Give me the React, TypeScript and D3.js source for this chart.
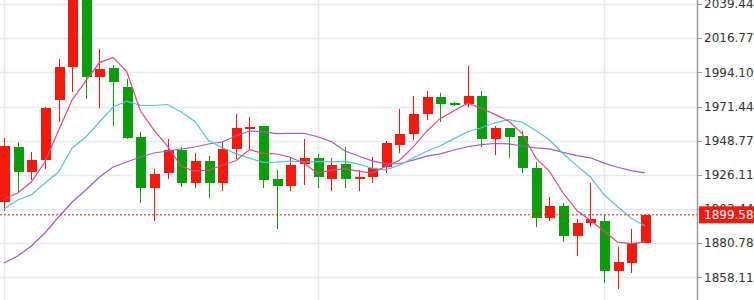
import React from "react";
import * as d3 from "d3";

const opens = [1908.08, 1944.57, 1927.99, 1935.95, 1975.75, 1997.64, 2047.40, 1991.01, 1996.98, 1984.37, 1951.20, 1917.37, 1927.32, 1942.58, 1920.69, 1935.28, 1920.69, 1943.24, 1956.51, 1958.50, 1923.34, 1918.70, 1933.29, 1937.27, 1923.34, 1933.29, 1923.34, 1924.67, 1931.30, 1945.90, 1953.19, 1966.46, 1977.74, 1973.76, 1973.10, 1978.40, 1949.88, 1957.17, 1951.87, 1930.64, 1897.47, 1905.43, 1885.53, 1894.15, 1895.48, 1862.31, 1867.62, 1880.88];
const closes = [1945.23, 1927.99, 1935.95, 1970.44, 1997.64, 2047.40, 1991.01, 1996.32, 1987.69, 1950.54, 1917.37, 1926.66, 1942.58, 1920.69, 1935.28, 1920.69, 1943.24, 1957.17, 1957.84, 1922.68, 1918.70, 1932.63, 1937.27, 1924.67, 1932.63, 1923.34, 1924.67, 1930.64, 1947.22, 1953.19, 1966.46, 1977.74, 1973.10, 1972.43, 1978.40, 1949.88, 1957.17, 1951.20, 1930.64, 1897.47, 1905.43, 1885.53, 1894.15, 1896.81, 1862.31, 1868.28, 1880.88, 1899.58];
const highs = [1950.54, 1947.89, 1941.25, 1971.11, 2002.95, 2052.04, 2051.38, 2009.58, 1998.97, 1989.68, 1954.52, 1929.98, 1949.88, 1944.57, 1940.59, 1938.60, 1947.89, 1966.46, 1964.47, 1958.50, 1929.31, 1937.94, 1949.88, 1939.93, 1937.27, 1944.57, 1929.31, 1937.94, 1948.55, 1969.78, 1978.40, 1981.72, 1980.39, 1974.42, 1998.31, 1981.72, 1958.50, 1957.17, 1955.18, 1934.62, 1911.40, 1907.42, 1896.81, 1920.69, 1899.46, 1878.23, 1890.17, 1899.58];
const lows = [1902.11, 1914.05, 1922.68, 1929.98, 1961.16, 1981.06, 1976.41, 1970.44, 1958.50, 1949.88, 1907.42, 1895.48, 1923.34, 1918.03, 1917.37, 1910.74, 1915.38, 1936.61, 1943.24, 1917.37, 1890.17, 1915.38, 1919.36, 1917.37, 1915.38, 1917.37, 1915.38, 1920.69, 1927.32, 1940.59, 1949.21, 1962.48, 1961.16, 1971.77, 1971.11, 1944.57, 1939.26, 1937.27, 1927.32, 1891.50, 1895.48, 1881.55, 1872.26, 1891.50, 1854.35, 1850.37, 1860.98, 1880.88];

const ma5Lead = [1910.07, 1914.05, 1921.35, 1934.62];
const ma10Lead = [1903.44, 1909.41, 1912.73, 1920.69, 1927.99, 1943.91, 1951.2, 1961.16, 1971.11];
const ma20Lead = [1867.62, 1872.26, 1878.89, 1887.52, 1898.13, 1908.08, 1916.04, 1924.67, 1931.3, 1934.62, 1937.94, 1940.59, 1941.92, 1943.24, 1944.57, 1946.56, 1947.89, 1951.87, 1955.18];

const yTicks = [2039.44, 2016.77, 1994.10, 1971.44, 1948.77, 1926.11, 1903.44, 1880.78, 1858.11];
const vGridIdx = [0, 23, 44];
const lastPrice = 1899.58;

const W = 754;
const H = 300;
const AXIS_X = 697.5;
const RED = "#f21a0c";
const GREEN = "#0c9c0c";

function movingAvg(lead: number[], n: number): number[] {
  return closes.map((_, i) => (i < lead.length ? lead[i] : (d3.mean(closes.slice(i - n + 1, i + 1)) as number)));
}

export default function App() {
  const x = d3.scaleLinear().domain([0, closes.length - 1]).range([4, 644.9]);
  const y = d3.scaleLinear().domain([1858.11, 2039.44]).range([277.33, 4]);
  const idx = d3.range(closes.length);

  const ma5 = movingAvg(ma5Lead, 5);
  const ma10 = movingAvg(ma10Lead, 10);
  const ma20 = movingAvg(ma20Lead, 20);
  const line = (vals: number[]) =>
    d3.line<number>().x((i) => x(i)).y((i) => y(vals[i]))(idx) || "";

  const bw = 10;
  const font = "'DejaVu Sans', Verdana, sans-serif";
  const yLast = y(lastPrice);

  return (
    <svg width={W} height={H} style={{ position: "absolute", left: 0, top: 0, background: "#fff" }}>
      <rect x={0} y={0} width={W} height={H} fill="#fff" />
      {yTicks.map((t) => (
        <line key={"h" + t} x1={0} x2={AXIS_X} y1={Math.round(y(t)) + 0.5} y2={Math.round(y(t)) + 0.5} stroke="#e6e9ef" strokeWidth={1.5} />
      ))}
      {vGridIdx.map((i) => (
        <line key={"v" + i} x1={Math.round(x(i)) + 0.5} x2={Math.round(x(i)) + 0.5} y1={0} y2={H} stroke="#e6e9ef" strokeWidth={1.5} />
      ))}
      <g shapeRendering="crispEdges">
        {idx.map((i) => {
          const up = closes[i] >= opens[i];
          const c = up ? RED : GREEN;
          const cx = Math.round(x(i));
          const top = y(Math.max(opens[i], closes[i]));
          const bot = y(Math.min(opens[i], closes[i]));
          return (
            <g key={"c" + i}>
              <line x1={cx + 0.5} x2={cx + 0.5} y1={y(highs[i])} y2={y(lows[i])} stroke={c} strokeWidth={1} />
              <rect x={cx - bw / 2 + 0.5} y={top} width={bw} height={Math.max(1.5, bot - top)} fill={c} />
            </g>
          );
        })}
      </g>
      <path d={line(ma20)} fill="none" stroke="#a35bc9" strokeWidth={1.2} />
      <path d={line(ma10)} fill="none" stroke="#52c5d8" strokeWidth={1.2} />
      <path d={line(ma5)} fill="none" stroke="#e24a7c" strokeWidth={1.2} />
      <line x1={0} x2={AXIS_X} y1={yLast} y2={yLast} stroke={RED} strokeWidth={1} strokeDasharray="2,2" />
      <line x1={AXIS_X} x2={AXIS_X} y1={0} y2={H} stroke="#9a9a9a" strokeWidth={1.5} />
      {yTicks.map((t) => (
        <g key={"t" + t}>
          <line x1={AXIS_X} x2={AXIS_X + 4.5} y1={Math.round(y(t)) + 0.5} y2={Math.round(y(t)) + 0.5} stroke="#9a9a9a" strokeWidth={1} />
          <text x={704} y={y(t)} dy="0.36em" fontSize={12} fontFamily={font} fill="#333">
            {t.toFixed(2)}
          </text>
        </g>
      ))}
      <rect x={699} y={yLast - 8.5} width={W - 699} height={17} fill={RED} />
      <text x={704} y={yLast} dy="0.36em" fontSize={12} fontFamily={font} fill="#fff">
        {lastPrice.toFixed(2)}
      </text>
    </svg>
  );
}
